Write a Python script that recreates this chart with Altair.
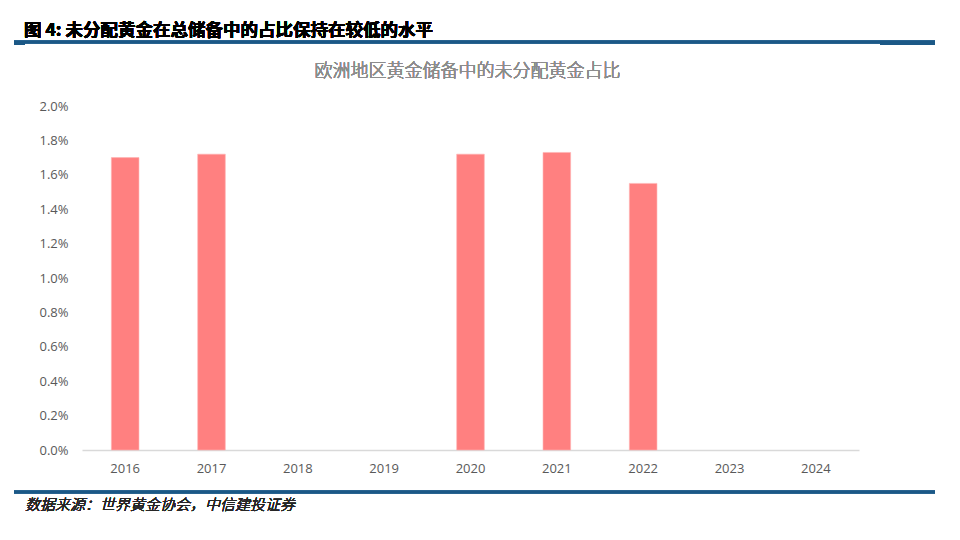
import altair as alt
import pandas as pd

years = ["2016", "2017", "2018", "2019", "2020", "2021", "2022", "2023", "2024"]
share = [1.70, 1.72, None, None, 1.72, 1.73, 1.55, None, None]  # %, empty years have no data

header = "图 4: 未分配黄金在总储备中的占比保持在较低的水平"
chart_title = "欧洲地区黄金储备中的未分配黄金占比"
source_note = "数据来源：世界黄金协会，中信建投证券"

df = pd.DataFrame({"year": years, "share": [None if v is None else v / 100 for v in share]})

W, H = 777, 344
blue = "#1b5886"
font = "Noto Sans CJK SC"

bars = alt.Chart(df).mark_bar(color="#ff8080", stroke="#ffb3b3", strokeWidth=0.6).encode(
    x=alt.X("year:N", title=None,
            scale=alt.Scale(domain=years, paddingInner=0.68, paddingOuter=0.34),
            axis=alt.Axis(labelAngle=0, ticks=False, labelPadding=12, labelFontSize=13,
                          labelColor="#595959", labelFont="Open Sans",
                          domainColor="#d9d9d9", domainWidth=1.5, grid=False)),
    y=alt.Y("share:Q", title=None,
            scale=alt.Scale(domain=[0, 0.02], nice=False),
            axis=alt.Axis(format=".1%", values=[i / 500 for i in range(11)], domain=False,
                          ticks=False, grid=False, labelPadding=14, labelFontSize=13,
                          labelColor="#595959", labelFont="Open Sans")),
)

# page decoration: header rule, footer rule, header and source text
top_rule = alt.Chart(df).mark_rule(color=blue, strokeWidth=2.5).encode(
    x=alt.value(-68), x2=alt.value(853), y=alt.value(-64))
top_cap_l = alt.Chart(df).mark_rule(color=blue, strokeWidth=4).encode(
    x=alt.value(-68), x2=alt.value(-57), y=alt.value(-63))
top_cap_r = alt.Chart(df).mark_rule(color=blue, strokeWidth=4).encode(
    x=alt.value(798), x2=alt.value(853), y=alt.value(-63))
bottom_rule = alt.Chart(df).mark_rule(color=blue, strokeWidth=2.5).encode(
    x=alt.value(-68), x2=alt.value(853), y=alt.value(386))

head_text = alt.Chart(df).mark_text(
    text=header, align="left", baseline="alphabetic", font=font, fontSize=17.5,
    fontWeight="bold", color="#000000").encode(x=alt.value(-58), y=alt.value(-70))
title_text = alt.Chart(df).mark_text(
    text=chart_title, align="center", baseline="middle", font=font, fontSize=18,
    fontWeight=300, color="#8c8c8c").encode(x=alt.value(W / 2 - 3), y=alt.value(-34))
src_text = alt.Chart(df).mark_text(
    text=source_note, align="left", baseline="middle", font=font, fontSize=15,
    fontStyle="italic", fontWeight=300, color="#262626").encode(x=alt.value(-57), y=alt.value(399))

chart = alt.layer(bars, top_rule, top_cap_l, top_cap_r, bottom_rule,
                  head_text, title_text, src_text).properties(
    width=W, height=H,
    autosize=alt.AutoSizeParams(type="none"),
    padding={"left": 74, "top": 98, "right": 93, "bottom": 82},
    background="#ffffff",
).configure_view(stroke=None)

chart.save("out.html", embed_options={"renderer": "svg", "actions": False})
